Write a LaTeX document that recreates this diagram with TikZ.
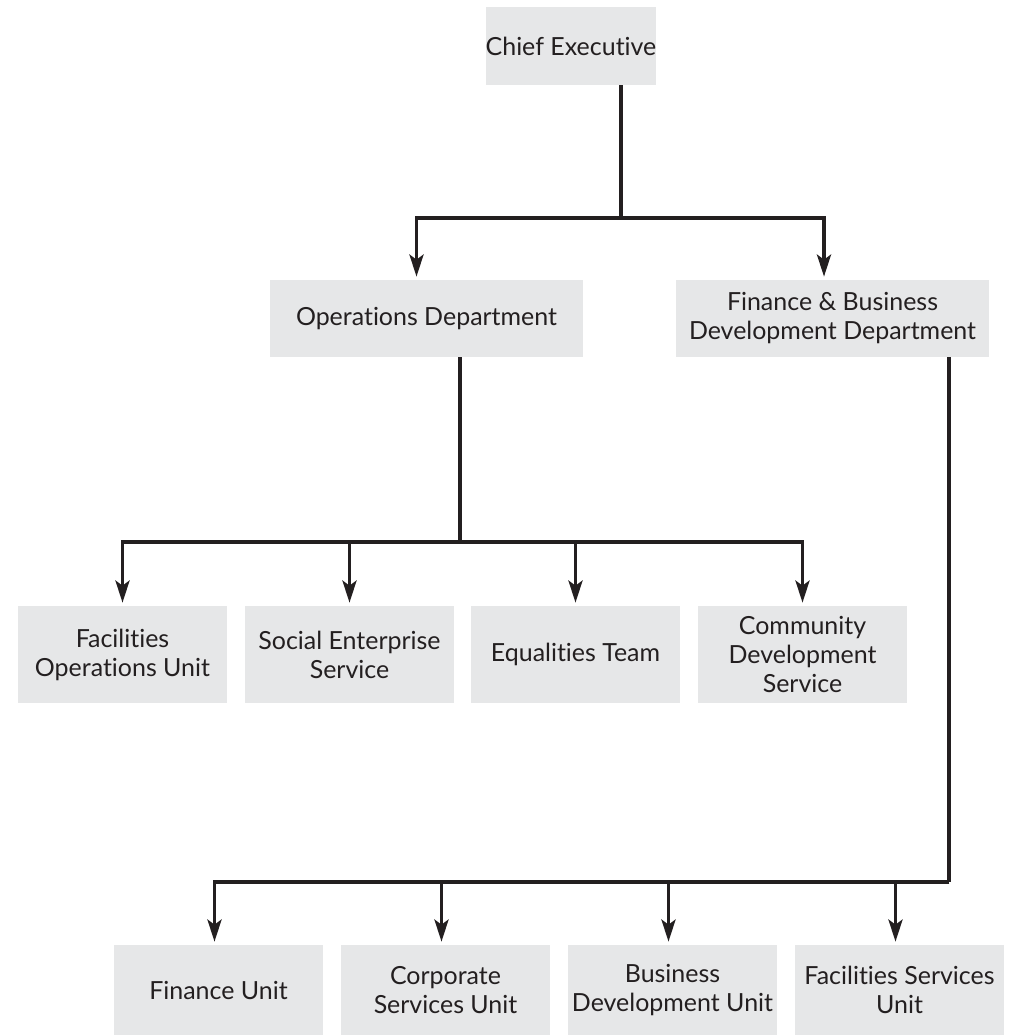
\documentclass[tikz,border=0pt]{standalone}
\usepackage{fontspec}
\setmainfont{Lato}[Ligatures=NoCommon]
\usetikzlibrary{arrows.meta}

\definecolor{boxgray}{HTML}{E6E7E8}
\definecolor{inkgray}{HTML}{231F20}

\tikzset{
  unit/.style={rectangle, fill=boxgray, text=inkgray, align=center,
    inner sep=0pt, font=\fontsize{14.2}{16.5}\selectfont},
  toprow/.style={unit, minimum width=6.26cm, minimum height=1.54cm},
  midrow/.style={unit, minimum width=4.18cm, minimum height=1.94cm},
  lowrow/.style={unit, minimum width=4.18cm, minimum height=1.80cm},
  link/.style={draw=inkgray, line width=2pt},
  feed/.style={link, -{Stealth[length=0.44cm,width=0.28cm,inset=0.1cm]}, shorten >=0.06cm},
}

\begin{document}
\begin{tikzpicture}
  % Frame
  \clip (0,0) rectangle (20.34,-20.72);

  % Boxes
  \node[unit, minimum width=3.28cm, minimum height=1.56cm] (chief) at (11.42,-0.92) {Chief Executive};

  \node[toprow] (ops) at (8.53,-6.37) {Operations Department};
  \node[toprow] (fin) at (16.65,-6.37) {Finance \& Business\\Development Department};

  \node[midrow] (facops) at (2.45,-13.09)  {Facilities\\Operations Unit};
  \node[midrow] (social) at (6.99,-13.09)  {Social Enterprise\\Service};
  \node[midrow] (equal)  at (11.51,-13.09) {Equalities Team};
  \node[midrow] (commdev) at (16.05,-13.09) {Community\\Development\\Service};

  \node[lowrow] (finunit) at (4.37,-19.80)  {Finance Unit};
  \node[lowrow] (corp)    at (8.91,-19.80)  {Corporate\\Services Unit};
  \node[lowrow] (busdev)  at (13.45,-19.80) {Business\\Development Unit};
  \node[lowrow] (facserv) at (17.99,-19.80) {Facilities Services\\Unit};

  % Junctions
  \coordinate (topbus) at (12.42,-4.36);
  \coordinate (opsbus) at (9.20,-10.84);
  \coordinate (finbus) at (18.98,-17.64);

  % Connectors
  \draw[link] (chief.south -| topbus) -- (topbus);
  \draw[feed] (topbus) -| ([xshift=-0.2cm]ops.north);
  \draw[feed] (topbus) -| ([xshift=-0.17cm]fin.north);

  \draw[link] (ops.south -| opsbus) -- (opsbus);
  \foreach \kid in {facops, social, equal, commdev}
    \draw[feed] (opsbus) -| (\kid.north);

  \draw[link] (fin.south -| finbus) -- (finbus);
  \foreach \kid in {finunit, corp, busdev, facserv}
    \draw[feed] (finbus) -| ([xshift=-0.08cm]\kid.north);
\end{tikzpicture}
\end{document}
